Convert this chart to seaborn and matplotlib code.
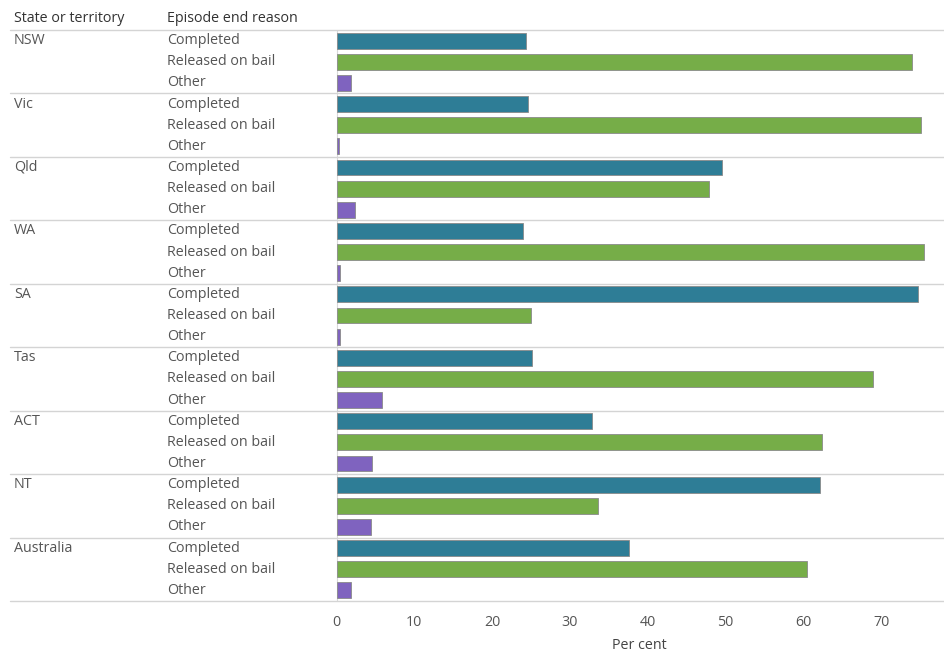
import matplotlib
matplotlib.use("Agg")
import matplotlib.pyplot as plt
import numpy as np
import pandas as pd
import seaborn as sns

states = ["NSW", "Vic", "Qld", "WA", "SA", "Tas", "ACT", "NT", "Australia"]
reasons = ["Completed", "Released on bail", "Other"]
completed = [24.4, 24.6, 49.5, 24.0, 74.7, 25.1, 32.9, 62.1, 37.6]
released_on_bail = [74.0, 75.1, 47.9, 75.5, 25.0, 69.0, 62.4, 33.6, 60.5]
other = [1.8, 0.3, 2.4, 0.5, 0.4, 5.9, 4.6, 4.4, 1.8]
x_ticks = [0, 10, 20, 30, 40, 50, 60, 70]

colors = {"Completed": "#2e7d96", "Released on bail": "#76ad48", "Other": "#7f63bf"}
text_color = "#555555"
line_color = "#d4d4d4"
fs = 10.3

rows = []
for i, state in enumerate(states):
    for reason, vals in zip(reasons, [completed, released_on_bail, other]):
        rows.append({"row": f"{state}|{reason}", "state": state, "reason": reason, "value": vals[i]})
df = pd.DataFrame(rows)

sns.set_theme(style="white")
plt.rcParams["font.family"] = ["Open Sans", "DejaVu Sans"]

fig = plt.figure(figsize=(9.44, 6.56), dpi=100)
left_px, right_px, top_px, bottom_px = 335, 944, 30, 601
ax = fig.add_axes([left_px / 944, 1 - bottom_px / 656,
                   (right_px - left_px) / 944, (bottom_px - top_px) / 656])

sns.barplot(data=df, x="value", y="row", hue="reason", palette=colors,
            dodge=False, orient="h", width=0.75, ax=ax, legend=False,
            saturation=1, edgecolor="#8a8a8a", linewidth=0.6)

n = len(df)
ax.set_ylim(n - 0.5, -0.5)
ax.set_xlim(-0.2, 78.1)
ax.set_xticks(x_ticks)
ax.set_xticklabels([str(t) for t in x_ticks], color=text_color, fontsize=fs)
ax.tick_params(axis="x", length=4, color="#e6e6e6", pad=6)
ax.set_yticks([])
ax.set_ylabel("")
ax.set_xlabel("Per cent", color="#444444", fontsize=fs, labelpad=6)
for s in ax.spines.values():
    s.set_visible(False)

ax.axvline(0, color="#d9d9d9", lw=0.8, zorder=0)

trans = ax.get_yaxis_transform()
x_line_start = (10 - left_px) / (right_px - left_px)
x_state = (14 - left_px) / (right_px - left_px)
x_reason = (167 - left_px) / (right_px - left_px)

for g in range(len(states) + 1):
    y = g * 3 - 0.5
    ax.plot([x_line_start, 1.0], [y, y], transform=trans, color=line_color,
            lw=1.0, clip_on=False, zorder=0)

for i, r in df.iterrows():
    if r["reason"] == "Completed":
        ax.text(x_state, i, r["state"], transform=trans, ha="left", va="center",
                color=text_color, fontsize=fs)
    ax.text(x_reason, i, r["reason"], transform=trans, ha="left", va="center",
            color=text_color, fontsize=fs)

fig.text(14 / 944, 1 - 19 / 656, "State or territory", ha="left", va="center",
         color="#333333", fontsize=fs)
fig.text(167 / 944, 1 - 19 / 656, "Episode end reason", ha="left", va="center",
         color="#333333", fontsize=fs)

fig.savefig("out.png", dpi=100)
